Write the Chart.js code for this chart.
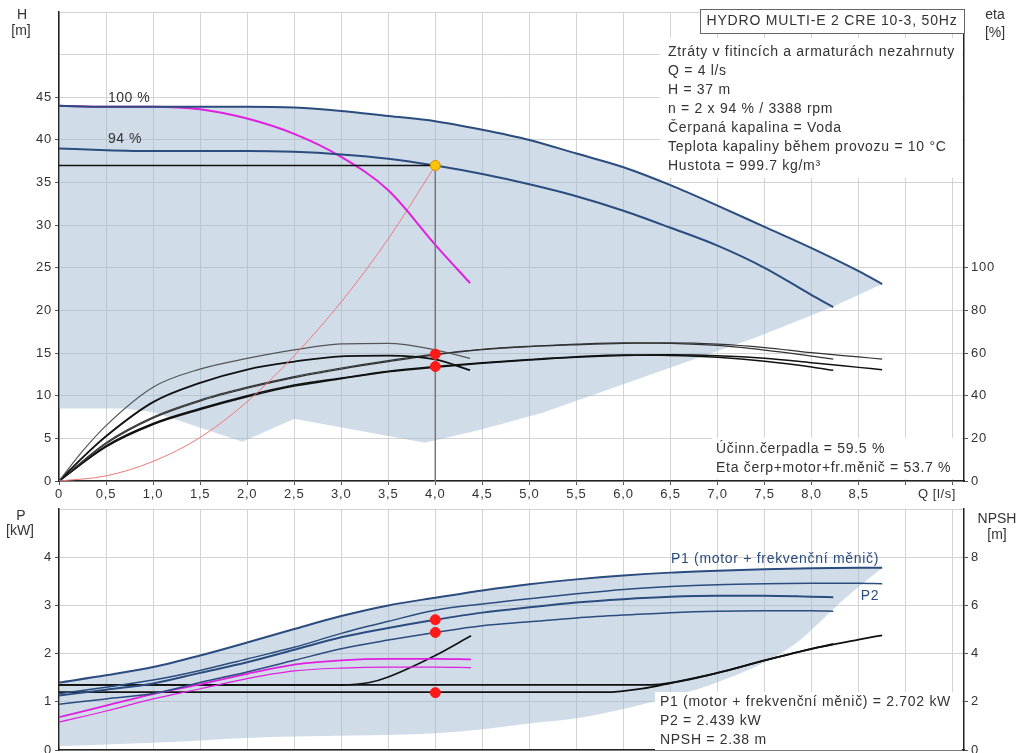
<!DOCTYPE html>
<html><head><meta charset="utf-8">
<script src="https://cdn.jsdelivr.net/npm/chart.js@4.4.1/dist/chart.umd.min.js"></script>
<style>
html,body{margin:0;padding:0;background:#fff;width:1025px;height:753px;overflow:hidden}
.w{position:absolute;left:0;width:1025px}
</style></head><body>
<div class="w" style="top:0;height:505px"><canvas id="c1"></canvas></div>
<div class="w" style="top:505px;height:248px"><canvas id="c2"></canvas></div>
<script>
// ---------- DATA ----------
const xTickValues = [0,0.5,1,1.5,2,2.5,3,3.5,4,4.5,5,5.5,6,6.5,7,7.5,8,8.5];
const qFull   = [0,0.5,1,1.5,2,2.5,3,3.5,4,4.5,5,5.5,6,6.5,7,7.5,8,8.5,8.75];
const q94     = [0,0.5,1,1.5,2,2.5,3,3.5,4,4.5,5,5.5,6,6.5,7,7.5,8,8.23];
const q1pump  = [0,0.5,1,1.5,2,2.5,3,3.5,4,4.37];

const head100 = [44.0,43.9,43.9,43.9,43.9,43.8,43.4,42.8,42.2,41.2,40.0,38.4,36.8,34.7,32.3,29.8,27.3,24.6,23.1];
const head94  = [39.0,38.8,38.7,38.7,38.7,38.6,38.3,37.8,37.0,36.0,34.8,33.4,31.7,29.7,27.6,25.0,21.8,20.4];
const headMax1pump = [44.0,43.9,43.9,43.6,42.5,40.7,38.0,34.1,27.7,23.2];
const qSys    = [0,0.5,1,1.5,2,2.5,3,3.5,4];
const headSys = [0,0.6,2.3,5.1,9.3,14.7,21.0,28.4,37.0];
const qRangeLow    = [0,0.7,1.0,1.95,2.5,3.89,4.48,5.14,6.27,7.4,8.22,8.75];
const headRangeLow = [8.5,8.5,8.1,4.6,7.3,4.5,6.0,8.0,12.4,16.8,20.4,23.1];

const qEta1        = [0,0.25,0.5,1,1.5,2,2.5,3,3.5,4,4.37];
const etaPump1     = [0,14,26,44,52.5,57.5,61.5,64.3,64.6,61.5,57.5];
const etaTotal1    = [0,11,21,37,46,52.3,56,58.5,58.8,57,52];
const etaPump2     = [0,17.5,29.5,37.5,43.5,48.5,52.5,56,59.2,61.6,63,63.9,64.6,64.8,64.2,62.6,60.2,58.2,57.2];
const etaPump2_94  = [0,18,30,38,44,49,53,56.5,59.5,61.8,63.2,64.2,64.8,64.6,63.6,61.4,58.6,57.2];
const etaTotal2    = [0,16,26.5,33.5,39.5,44.5,48,51.2,53.4,55.2,56.8,58.1,58.9,59.2,58.8,57.6,55.5,53.3,52.2];
const etaTotal2_94 = [0,16.5,27,34,40,45,48.3,51.5,53.7,55.5,57,58.3,59.1,58.9,58.0,56.2,53.5,51.9];

const dutyQ = 4, dutyH = 37;
const dutyEta = [59.5, 53.7];
const dutyPower = [2.702, 2.439];
const dutyNpsh = 2.38;

const powerP1    = [1.40,1.55,1.72,1.96,2.23,2.51,2.78,3.00,3.16,3.31,3.44,3.54,3.62,3.68,3.72,3.75,3.77,3.78,3.78];
const powerP2    = [1.17,1.30,1.45,1.65,1.89,2.13,2.42,2.67,2.90,3.03,3.14,3.24,3.33,3.39,3.43,3.45,3.46,3.46,3.45];
const powerP1_94 = [1.13,1.25,1.38,1.60,1.82,2.08,2.34,2.53,2.70,2.85,2.96,3.06,3.13,3.18,3.20,3.20,3.18,3.17];
const powerP2_94 = [0.95,1.06,1.17,1.40,1.62,1.86,2.10,2.28,2.44,2.58,2.66,2.74,2.80,2.85,2.88,2.89,2.89,2.88];
const q1pumpP    = [0,0.5,1,1.5,2,2.5,3,3.5,4,4.38];
const powerP1_1  = [0.68,0.92,1.16,1.36,1.58,1.77,1.86,1.89,1.89,1.88];
const powerP2_1  = [0.58,0.81,1.06,1.27,1.48,1.64,1.70,1.72,1.72,1.71];
const qPowLow    = [0,1,2,2.5,3.1,4,4.46,5,5.57,6.31,7.06,7.8,8.35,8.75];
const powerLow   = [0.08,0.15,0.25,0.28,0.30,0.35,0.42,0.55,0.68,1.0,1.45,2.17,3.14,3.78];

const qNpsh1 = [0,3.0,3.3,3.5,4,4.38];
const npsh1  = [2.7,2.7,2.8,3.03,3.92,4.74];
const qNpsh2 = [0,6.3,6.5,7,7.5,8,8.5,8.75];
const npsh2  = [2.7,2.7,2.78,3.2,3.72,4.2,4.58,4.76];
const qNpsh3 = [0,5.8,6.2,6.5,7,7.5,8,8.23];
const npsh3  = [2.4,2.4,2.55,2.78,3.2,3.72,4.2,4.4];

const infoLines = [
  'Ztráty v fitincích a armaturách nezahrnuty',
  'Q = 4 l/s',
  'H = 37 m',
  'n = 2 x 94 % / 3388 rpm',
  'Čerpaná kapalina = Voda',
  'Teplota kapaliny během provozu = 10 °C',
  'Hustota = 999.7 kg/m³'
];
const titleText = 'HYDRO MULTI-E 2 CRE 10-3, 50Hz';
const etaLines = ['Účinn.čerpadla = 59.5 %', 'Eta čerp+motor+fr.měnič = 53.7 %'];
const powerLines = ['P1 (motor + frekvenční měnič) = 2.702 kW', 'P2 = 2.439 kW', 'NPSH = 2.38 m'];

// ---------- HELPERS ----------
const FONT = "'Liberation Sans', Arial, sans-serif";
Chart.defaults.font.family = FONT;
Chart.defaults.font.size = 13;
Chart.defaults.color = '#333';
const pts = (qs, vs) => qs.map((q, i) => ({x: q, y: vs[i]}));
const SHADE = 'rgba(150,178,205,0.45)';
const BLUE = '#2b4c7e';
const MAG = '#e020e0';
const GRID = '#d3d3d3';
const AX = '#222';

function line(data, color, width, axis, extra) {
  return Object.assign({type:'line', data, borderColor: color, borderWidth: width, pointRadius: 0,
    yAxisID: axis, fill: false, cubicInterpolationMode: 'monotone', tension: 0.4}, extra || {});
}
function dots(data, color, border, axis, r) {
  return {type:'line', data, showLine:false, pointRadius: r || 5, pointBackgroundColor: color,
    pointBorderColor: border, pointBorderWidth: 1, yAxisID: axis, fill:false};
}
function fixW(w) { return function(s){ s.width = w; s.paddingTop = 0; s.paddingBottom = 0; }; }
function fixH(h) { return function(s){ s.height = h; }; }
const xLabel = v => v === 0 ? '0' : (xTickValues.includes(v) ? v.toFixed(1).replace('.', ',') : '');

function textPlugin(id, boxes, texts) {
  return {
    id,
    beforeDraw(chart) { chart.ctx.letterSpacing = '0.8px'; },
    beforeDatasetsDraw(chart) {
      const ctx = chart.ctx; ctx.save();
      boxes.forEach(b => {
        ctx.fillStyle = '#fff'; ctx.fillRect(b.x, b.y, b.w, b.h);
        if (b.stroke) { ctx.strokeStyle = b.stroke; ctx.lineWidth = 1; ctx.strokeRect(b.x + 0.5, b.y + 0.5, b.w - 1, b.h - 1); }
      });
      ctx.restore();
    },
    afterDraw(chart) {
      const ctx = chart.ctx; ctx.save();
      texts.forEach(t => {
        ctx.font = (t.size || 14) + 'px ' + FONT;
        ctx.letterSpacing = (t.ls === undefined ? 0.7 : t.ls) + 'px';
        ctx.fillStyle = t.color || '#333';
        ctx.textAlign = t.align || 'left';
        ctx.textBaseline = 'middle';
        ctx.fillText(t.text, t.x, t.y);
      });
      ctx.restore();
    }
  };
}

// ---------- TOP CHART ----------
const topTexts = [
  {text:'H', x:22, y:15, align:'center', ls:0}, {text:'[m]', x:21, y:31, align:'center', ls:0},
  {text:'eta', x:995, y:15, align:'center', ls:0}, {text:'[%]', x:995, y:33, align:'center', ls:0},
  {text:titleText, x:832, y:21, align:'center', ls:0.8},
  {text:'100 %', x:108, y:98, ls:0.5}, {text:'94 %', x:108, y:139, ls:0.5},
  {text:'Q [l/s]', x:937, y:494, align:'center', size:13, ls:0.6}
];
infoLines.forEach((t, i) => topTexts.push({text:t, x:668, y:52 + i * 19}));
etaLines.forEach((t, i) => topTexts.push({text:t, x:716, y:449 + i * 19}));

new Chart(document.getElementById('c1'), {
  data: { datasets: [
    dots([{x:dutyQ, y:dutyH}], '#f7c600', '#e08a00', 'y', 5),
    dots(dutyEta.map(v => ({x:dutyQ, y:v})), '#ff1a1a', '#ff1a1a', 'eta', 5),
    line(pts([0, dutyQ], [dutyH, dutyH]), '#111', 1.5, 'y', {tension:0}),
    line(pts([dutyQ, dutyQ], [0, dutyH]), '#777', 1.5, 'y', {tension:0}),
    line(pts(qFull, head100), BLUE, 2, 'y'),
    line(pts(q94, head94), BLUE, 2, 'y'),
    line(pts(q1pump, headMax1pump), MAG, 2, 'y'),
    line(pts(qSys, headSys), '#f07878', 1, 'y'),
    line(pts(qEta1, etaPump1), '#555', 1.2, 'eta'),
    line(pts(qEta1, etaTotal1), '#111', 1.8, 'eta'),
    line(pts(qFull, etaPump2), '#333', 1.2, 'eta'),
    line(pts(q94, etaPump2_94), '#333', 1.2, 'eta'),
    line(pts(qFull, etaTotal2), '#111', 1.5, 'eta'),
    line(pts(q94, etaTotal2_94), '#111', 1.5, 'eta'),
    line(pts(qFull, head100), 'rgba(0,0,0,0)', 0, 'y', {fill:'+1', backgroundColor: SHADE}),
    line(pts(qRangeLow, headRangeLow), 'rgba(0,0,0,0)', 0, 'y', {tension:0, cubicInterpolationMode:'default'})
  ]},
  options: {
    responsive:true, maintainAspectRatio:false, animation:false, devicePixelRatio:1,
    layout:{autoPadding:false, padding:{top:12, left:0, right:0, bottom:0}},
    plugins:{legend:{display:false}, tooltip:{enabled:false}, filler:{drawTime:'beforeDatasetsDraw'}},
    scales:{
      x:{type:'linear', min:0, max:9.62, afterFit:fixH(24),
        ticks:{stepSize:0.5, includeBounds:false, autoSkip:false, maxRotation:0, padding:2, callback:xLabel},
        grid:{color:GRID, tickLength:4, tickColor:'#555'}, border:{color:AX, width:1.5}},
      y:{type:'linear', position:'left', min:0, max:55, afterFit:fixW(59),
        ticks:{stepSize:5, padding:3, callback:v => v <= 45 ? v : ''},
        grid:{color:GRID, tickLength:4, tickColor:c => c.tick && c.tick.value <= 45 ? '#555' : 'rgba(0,0,0,0)'},
        border:{color:AX, width:1.5}},
      eta:{type:'linear', position:'right', min:0, max:220, afterFit:fixW(61),
        ticks:{stepSize:20, padding:3, callback:v => v <= 100 ? v : ''},
        grid:{drawOnChartArea:false, tickLength:4, tickColor:c => c.tick && c.tick.value <= 100 ? '#555' : 'rgba(0,0,0,0)'},
        border:{color:AX, width:1.5}}
    }
  },
  plugins:[textPlugin('t1', [
    {x:700, y:9, w:265, h:25, stroke:'#666'},
    {x:660, y:38, w:302, h:140},
    {x:712, y:438, w:250, h:41}
  ], topTexts)]
});

// ---------- BOTTOM CHART ----------
const botTexts = [
  {text:'P', x:21, y:11, align:'center', ls:0}, {text:'[kW]', x:20, y:26, align:'center', ls:0},
  {text:'NPSH', x:997, y:14, align:'center', ls:0}, {text:'[m]', x:997, y:30, align:'center', ls:0},
  {text:'P1 (motor + frekvenční měnič)', x:775, y:54, align:'center', color:BLUE},
  {text:'P2', x:870, y:91, align:'center', color:BLUE}
];
powerLines.forEach((t, i) => botTexts.push({text:t, x:660, y:197 + i * 19}));

new Chart(document.getElementById('c2'), {
  data: { datasets: [
    dots(dutyPower.map(v => ({x:dutyQ, y:v})), '#ff1a1a', '#ff1a1a', 'p', 5),
    dots([{x:dutyQ, y:dutyNpsh}], '#ff1a1a', '#ff1a1a', 'npsh', 5),
    line(pts(qFull, powerP1), BLUE, 2, 'p'),
    line(pts(qFull, powerP2), BLUE, 1.5, 'p'),
    line(pts(q94, powerP1_94), BLUE, 2, 'p'),
    line(pts(q94, powerP2_94), BLUE, 1.5, 'p'),
    line(pts(q1pumpP, powerP1_1), MAG, 1.8, 'p'),
    line(pts(q1pumpP, powerP2_1), MAG, 1.2, 'p'),
    line(pts(qNpsh1, npsh1), '#111', 1.5, 'npsh'),
    line(pts(qNpsh2, npsh2), '#111', 1.8, 'npsh'),
    line(pts(qNpsh3, npsh3), '#111', 1.8, 'npsh'),
    line(pts(qFull, powerP1), 'rgba(0,0,0,0)', 0, 'p', {fill:'+1', backgroundColor: SHADE}),
    line(pts(qPowLow, powerLow), 'rgba(0,0,0,0)', 0, 'p')
  ]},
  options: {
    responsive:true, maintainAspectRatio:false, animation:false, devicePixelRatio:1,
    layout:{autoPadding:false, padding:{top:4, left:0, right:0, bottom:3}},
    plugins:{legend:{display:false}, tooltip:{enabled:false}, filler:{drawTime:'beforeDatasetsDraw'}},
    scales:{
      x:{type:'linear', min:0, max:9.62, afterFit:fixH(0),
        ticks:{stepSize:0.5, includeBounds:false, display:false},
        grid:{color:GRID, drawTicks:false}, border:{color:AX, width:1.5}},
      p:{type:'linear', position:'left', min:0, max:5, afterFit:fixW(59),
        ticks:{stepSize:1, padding:3, callback:v => v <= 4 ? v : ''},
        grid:{color:GRID, tickLength:4, tickColor:c => c.tick && c.tick.value <= 4 ? '#555' : 'rgba(0,0,0,0)'},
        border:{color:AX, width:1.5}},
      npsh:{type:'linear', position:'right', min:0, max:10, afterFit:fixW(61),
        ticks:{stepSize:2, padding:3, callback:v => v <= 8 ? v : ''},
        grid:{drawOnChartArea:false, tickLength:4, tickColor:c => c.tick && c.tick.value <= 8 ? '#555' : 'rgba(0,0,0,0)'},
        border:{color:AX, width:1.5}}
    }
  },
  plugins:[textPlugin('t2', [
    {x:655, y:187, w:307, h:58}
  ], botTexts)]
});
</script>
</body></html>
